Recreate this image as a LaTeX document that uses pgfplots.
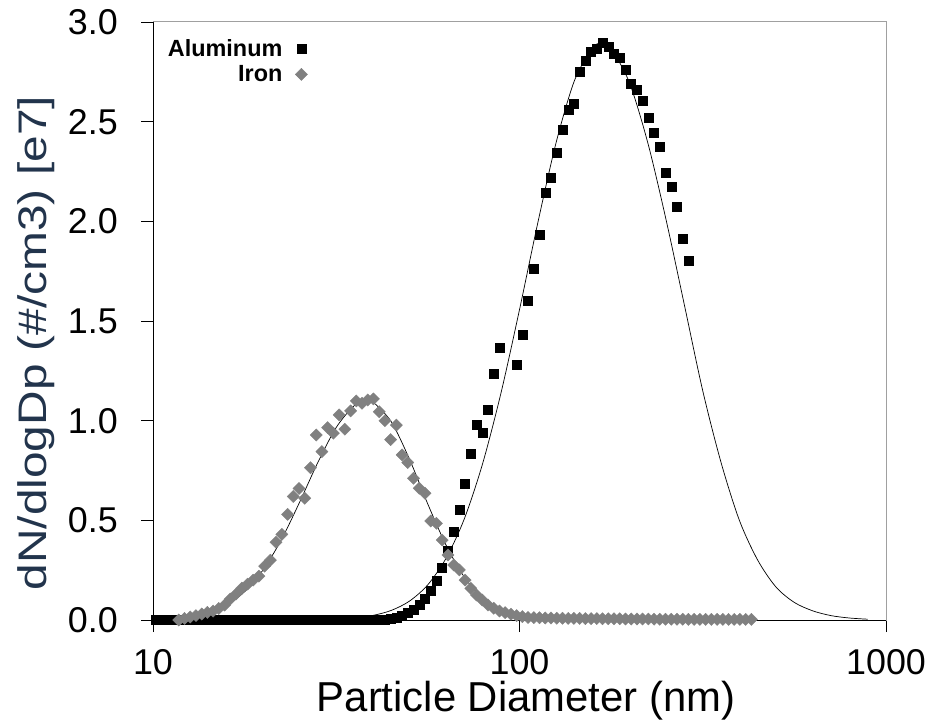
\documentclass[border=0pt]{standalone}
\usepackage{graphicx}
\usepackage{pgfplots}
\usepackage{pgfplotstable}
\pgfplotsset{compat=1.18}
\usepackage{fontspec}
\setmainfont{Liberation Sans}
\newfontfamily\legfont{Liberation Sans}
\definecolor{ylab}{HTML}{22344C}
\definecolor{irongray}{HTML}{808080}
\definecolor{framegray}{HTML}{A0A0A0}

% Aluminum measured size distribution (D in nm, dN/dlogDp in 1e7 /cm3)
\pgfplotstableread{
D y
10.18 0
10.55 0
10.94 0
11.34 0
11.76 0
12.19 0
12.63 0
13.10 0
13.58 0
14.07 0
14.59 0
15.12 0
15.68 0
16.25 0
16.85 0
17.47 0
18.11 0
18.77 0
19.46 0
20.17 0
20.91 0
21.67 0
22.47 0
23.29 0
24.14 0
25.03 0
25.95 0
26.90 0
27.88 0
28.90 0
29.96 0
31.06 0
32.20 0
33.38 0
34.60 0
35.87 0
37.18 0
38.54 0
39.95 0.001
41.42 0.002
42.94 0.004
44.51 0.007
46.14 0.013
47.83 0.022
49.58 0.036
51.40 0.053
53.28 0.075
55.23 0.109
57.25 0.146
59.35 0.199
61.53 0.262
63.78 0.346
66.12 0.442
68.54 0.555
71.05 0.682
73.65 0.836
76.35 0.978
79.15 0.942
82.05 1.054
85.05 1.236
88.17 1.366
98.22 1.283
101.8 1.430
105.5 1.600
109.4 1.763
113.4 1.932
117.6 2.144
121.9 2.221
126.4 2.345
131.0 2.462
135.8 2.562
140.7 2.591
145.9 2.752
151.2 2.804
156.8 2.852
162.5 2.865
168.5 2.894
174.7 2.877
181.1 2.843
187.7 2.822
194.6 2.763
201.7 2.691
209.1 2.662
216.7 2.606
224.7 2.522
232.9 2.445
241.4 2.375
250.3 2.245
259.5 2.173
269.0 2.074
278.8 1.915
289.0 1.803
}\altable

% Iron measured size distribution
\pgfplotstableread{
D y
11.76 0.000
12.19 0.008
12.63 0.015
13.10 0.022
13.58 0.030
14.07 0.038
14.59 0.045
15.12 0.058
15.68 0.075
16.25 0.105
16.85 0.130
17.47 0.160
18.11 0.180
18.77 0.200
19.46 0.220
20.17 0.270
20.91 0.300
21.67 0.390
22.47 0.430
23.29 0.530
24.14 0.620
25.03 0.660
25.95 0.611
26.90 0.764
27.88 0.928
28.90 0.845
29.96 0.965
31.06 0.937
32.20 1.029
33.38 0.957
34.60 1.049
35.87 1.099
37.18 1.087
38.54 1.104
39.95 1.109
41.42 1.045
42.94 1.000
44.51 0.905
46.14 0.978
47.83 0.828
49.58 0.790
51.40 0.711
53.28 0.661
55.23 0.636
57.25 0.497
59.35 0.485
61.53 0.401
63.78 0.326
66.12 0.276
68.54 0.251
71.05 0.200
73.65 0.159
76.35 0.125
79.15 0.100
82.05 0.075
85.05 0.059
88.17 0.045
91.40 0.037
94.75 0.029
98.22 0.022
101.8 0.017
105.5 0.013
109.4 0.012
113.4 0.011
117.6 0.010
121.9 0.010
126.4 0.009
131.0 0.009
135.8 0.008
140.7 0.008
145.9 0.008
151.2 0.007
156.8 0.007
162.5 0.007
168.5 0.006
174.7 0.006
181.1 0.006
187.7 0.006
194.6 0.005
201.7 0.005
209.1 0.005
216.7 0.005
224.7 0.005
232.9 0.004
241.4 0.004
250.3 0.004
259.5 0.004
269.0 0.004
278.8 0.004
289.0 0.003
299.6 0.003
310.6 0.003
322.0 0.003
333.8 0.003
346.0 0.003
358.7 0.003
371.8 0.003
385.4 0.003
399.5 0.003
414.2 0.003
429.4 0.003
}\fetable

% Fitted curves
\pgfplotstableread{
D y
28.18 0.002
31.62 0.004
35.48 0.010
39.81 0.023
44.67 0.048
50.12 0.095
56.23 0.177
63.10 0.311
70.79 0.510
79.43 0.788
89.13 1.143
100.0 1.557
112.2 1.993
125.9 2.396
141.3 2.707
158.5 2.872
166.9 2.890
177.8 2.865
199.5 2.696
223.9 2.394
251.2 2.007
281.8 1.580
316.2 1.150
354.8 0.790
398.1 0.500
446.7 0.300
501.2 0.165
562.3 0.088
631.0 0.046
707.9 0.022
794.3 0.010
891.3 0.004
}\alfit

\pgfplotstableread{
D y
11.22 0.006
12.59 0.015
14.13 0.035
15.85 0.073
17.78 0.142
19.95 0.250
22.39 0.402
25.12 0.591
28.18 0.791
31.62 0.966
35.48 1.077
38.37 1.100
39.81 1.094
44.67 0.995
50.12 0.806
56.23 0.581
63.10 0.374
70.79 0.214
79.43 0.109
89.13 0.050
100.0 0.020
112.2 0.007
125.9 0.002
141.3 0.001
}\fefit

\begin{document}
\begin{tikzpicture}
\begin{axis}[
  scale only axis,
  width=733bp, height=598bp,
  xmode=log, xmin=10, xmax=1000,
  ymin=0, ymax=3,
  clip=false,
  xtick={10,100,1000}, xticklabels={10,100,1000},
  xminorticks=false, yminorticks=false,
  ytick={0,0.5,1,1.5,2,2.5,3},
  yticklabel style={/pgf/number format/.cd, fixed, fixed zerofill, precision=1, assume math mode=true},
  tick pos=left,
  tick align=outside,
  major tick length=12bp,
  tick style={black, line width=0.8bp},
  axis line style={framegray, line width=1bp},
  tick label style={font=\fontsize{36}{36}\selectfont, inner sep=0pt},
  yticklabel shift=23bp,
  xticklabel shift=17bp,
  xlabel={Particle Diameter (nm)},
  xlabel style={font=\fontsize{42}{42}\selectfont, at={(axis description cs:0.509,-0.1538)}, anchor=base},
  ylabel={\scalebox{1.2}[1]{dN/dlogDp (\#/cm3) [e7]}},
  ylabel style={font=\fontsize{40}{40}\selectfont, color=ylab, at={(axis description cs:-0.1452,0.463)}, anchor=base},
  legend plot pos=right,
  legend cell align=right,
  legend image code/.code={\draw[#1] plot coordinates {(0bp,0bp)};},
  legend style={draw=none, fill=none, font=\legfont\bfseries\fontsize{23.5}{23.5}\selectfont,
    at={(axis description cs:0.016,0.975)}, anchor=north west,
    nodes={inner sep=0bp}, column sep=13bp, row sep=8bp},
]
\coordinate (O) at (rel axis cs:0,0);
\addplot[only marks, mark=square*, mark size=4.5bp, black] table[x=D,y=y] {\altable};
\addlegendentry{Aluminum}
\addplot[only marks, mark=square*, mark size=4.3bp, mark options={rotate=45, fill=irongray, draw=irongray}, irongray] table[x=D,y=y] {\fetable};
\addlegendentry{Iron}
\addplot[black, line width=0.7bp, smooth, forget plot] table[x=D,y=y] {\alfit};
\addplot[black, line width=0.7bp, smooth, forget plot] table[x=D,y=y] {\fefit};
\draw[black, line width=1bp] (rel axis cs:0,1) -- (rel axis cs:0,0) -- (rel axis cs:1,0);
\end{axis}
\path (O) ++(-153bp,-105bp) rectangle ++(934bp,725bp);
\end{tikzpicture}
\end{document}
